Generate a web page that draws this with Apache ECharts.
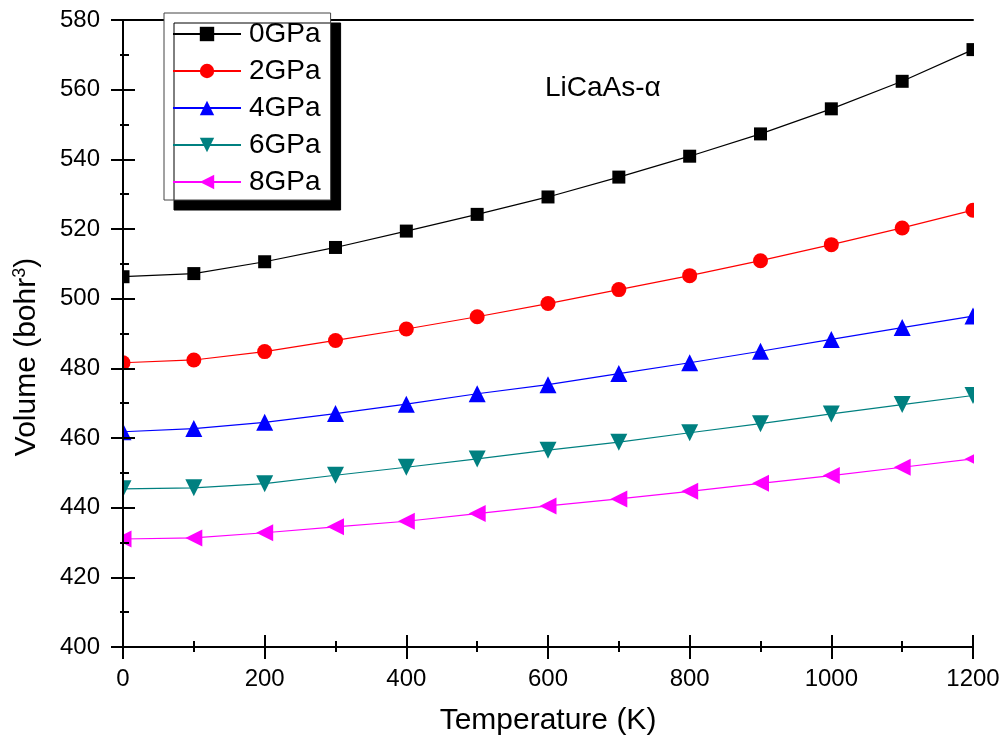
<!DOCTYPE html>
<html>
<head>
<meta charset="utf-8">
<script src="https://cdn.jsdelivr.net/npm/echarts@6/dist/echarts.min.js"></script>
<style>
  html, body { margin: 0; padding: 0; background: #fff; }
  #chart { width: 1003px; height: 743px; }
</style>
</head>
<body>
<div id="chart"></div>
<script>
// Temperature points (K)
const temperatures = [0, 100, 200, 300, 400, 500, 600, 700, 800, 900, 1000, 1100, 1200];

// Unit-cell volume (bohr^3) of LiCaAs-alpha at each pressure
const v0GPa = [506.3, 507.2, 510.6, 514.7, 519.4, 524.2, 529.2, 534.9, 540.9, 547.3, 554.5, 562.4, 571.5];
const v2GPa = [481.6, 482.4, 484.8, 488.0, 491.3, 494.8, 498.6, 502.6, 506.6, 510.9, 515.5, 520.3, 525.4];
const v4GPa = [461.8, 462.7, 464.5, 467.0, 469.7, 472.7, 475.3, 478.5, 481.6, 484.9, 488.3, 491.7, 495.0];
const v6GPa = [445.4, 445.7, 446.9, 449.3, 451.6, 454.0, 456.5, 458.8, 461.5, 464.1, 466.9, 469.6, 472.2];
const v8GPa = [431.0, 431.3, 432.8, 434.5, 436.1, 438.3, 440.5, 442.5, 444.7, 447.0, 449.2, 451.6, 454.0];

const seriesNames = ['0GPa', '2GPa', '4GPa', '6GPa', '8GPa'];
const yTicks = { min: 400, max: 580, step: 20 };
const xTicks = { min: 0, max: 1200, step: 200 };

const FONT = 'Liberation Sans, Arial, sans-serif';

const pairs = vals => temperatures.map((t, i) => [t, vals[i]]);

function mkSeries(name, vals, color, symbol, size, rotate) {
  return {
    name: name,
    type: 'line',
    data: pairs(vals),
    xAxisIndex: 0,
    yAxisIndex: 0,
    z: 2,
    clip: false,
    symbol: symbol,
    symbolSize: size,
    symbolRotate: rotate || 0,
    showAllSymbol: true,
    color: color,
    lineStyle: { color: color, width: 1.2 },
    itemStyle: { color: color, borderWidth: 0 },
    emphasis: { disabled: true },
    animation: false
  };
}

const tickLabelStyle = { color: '#000', fontSize: 24, fontFamily: FONT };
const axisLineStyle = { show: true, lineStyle: { color: '#000', width: 2 } };
const plainNumber = v => String(v);

const chart = echarts.init(document.getElementById('chart'), null, { renderer: 'canvas' });

chart.setOption({
  backgroundColor: '#fff',
  animation: false,
  grid: { left: 123, right: 30, top: 20, bottom: 96, containLabel: false },
  legend: {
    orient: 'vertical',
    left: 164,
    top: 13,
    z: 30,
    padding: [6, 10, 3, 8],
    itemWidth: 68,
    itemHeight: 18,
    itemGap: 7,
    backgroundColor: '#fff',
    borderColor: '#444',
    borderWidth: 1,
    shadowColor: '#000',
    shadowBlur: 0,
    shadowOffsetX: 10,
    shadowOffsetY: 10,
    textStyle: { color: '#000', fontSize: 28, lineHeight: 30, fontFamily: FONT, padding: [0, 0, 0, 3] },
    data: seriesNames
  },
  graphic: [
    // mask the parts of edge markers that fall outside the plot frame
    { type: 'rect', z: 5, silent: true, shape: { x: 0, y: 0, width: 122, height: 743 }, style: { fill: '#fff' } },
    { type: 'rect', z: 5, silent: true, shape: { x: 974, y: 0, width: 29, height: 743 }, style: { fill: '#fff' } },
    {
      type: 'text', z: 30, x: 545, y: 88,
      style: { text: 'LiCaAs-α', fill: '#000', fontSize: 28, fontFamily: FONT, verticalAlign: 'middle' }
    },
    {
      // y-axis title with superscript unit
      type: 'text', z: 30, x: 27, y: 357, rotation: Math.PI / 2,
      style: {
        text: '{n|Volume (bohr}{s|3}{n|)}',
        align: 'center', verticalAlign: 'middle',
        fill: '#000', fontFamily: FONT,
        rich: {
          n: { fontSize: 30, fontFamily: FONT, fill: '#000', verticalAlign: 'middle' },
          s: { fontSize: 18, fontFamily: FONT, fill: '#000', verticalAlign: 'top', padding: [0, 0, 14, 0] }
        }
      }
    }
  ],
  xAxis: [
    {
      type: 'value', position: 'bottom', min: xTicks.min, max: xTicks.max, interval: xTicks.step, z: 10,
      name: 'Temperature (K)', nameLocation: 'middle', nameGap: 59,
      nameTextStyle: { color: '#000', fontSize: 30, fontFamily: FONT },
      axisLine: axisLineStyle,
      axisTick: { show: true, inside: false, length: 12, lineStyle: { color: '#000', width: 2 } },
      minorTick: { show: true, splitNumber: 2, length: 5, lineStyle: { color: '#000', width: 2 } },
      axisLabel: Object.assign({ margin: 20, formatter: plainNumber }, tickLabelStyle),
      splitLine: { show: false }
    },
    {
      type: 'value', position: 'bottom', min: xTicks.min, max: xTicks.max, interval: xTicks.step, z: 10,
      axisLine: axisLineStyle,
      axisTick: { show: true, inside: true, length: 12, lineStyle: { color: '#000', width: 2 } },
      minorTick: { show: true, splitNumber: 2, length: 6, lineStyle: { color: '#000', width: 2 } },
      axisLabel: { show: false },
      splitLine: { show: false }
    },
    {
      type: 'value', position: 'top', min: xTicks.min, max: xTicks.max, z: 10,
      axisLine: axisLineStyle, axisTick: { show: false }, axisLabel: { show: false }, splitLine: { show: false }
    }
  ],
  yAxis: [
    {
      type: 'value', position: 'left', min: yTicks.min, max: yTicks.max, interval: yTicks.step, z: 10,
      axisLine: axisLineStyle,
      axisTick: { show: true, inside: false, length: 12, lineStyle: { color: '#000', width: 2 } },
      minorTick: { show: true, splitNumber: 2, length: 3, lineStyle: { color: '#000', width: 2 } },
      axisLabel: Object.assign({ margin: 23, formatter: plainNumber }, tickLabelStyle),
      splitLine: { show: false }
    },
    {
      type: 'value', position: 'left', min: yTicks.min, max: yTicks.max, interval: yTicks.step, z: 10,
      axisLine: axisLineStyle,
      axisTick: { show: true, inside: true, length: 12, lineStyle: { color: '#000', width: 2 } },
      minorTick: { show: true, splitNumber: 2, length: 6, lineStyle: { color: '#000', width: 2 } },
      axisLabel: { show: false },
      splitLine: { show: false }
    },
    {
      type: 'value', position: 'right', min: yTicks.min, max: yTicks.max, z: 10,
      axisLine: axisLineStyle, axisTick: { show: false }, axisLabel: { show: false }, splitLine: { show: false }
    }
  ],
  series: [
    mkSeries(seriesNames[0], v0GPa, '#000000', 'rect', 13),
    mkSeries(seriesNames[1], v2GPa, '#ff0000', 'circle', 15),
    mkSeries(seriesNames[2], v4GPa, '#0000ff', 'triangle', 17),
    mkSeries(seriesNames[3], v6GPa, '#008080', 'triangle', 17, 180),
    mkSeries(seriesNames[4], v8GPa, '#ff00ff', 'triangle', 17, 90)
  ]
});
</script>
</body>
</html>
